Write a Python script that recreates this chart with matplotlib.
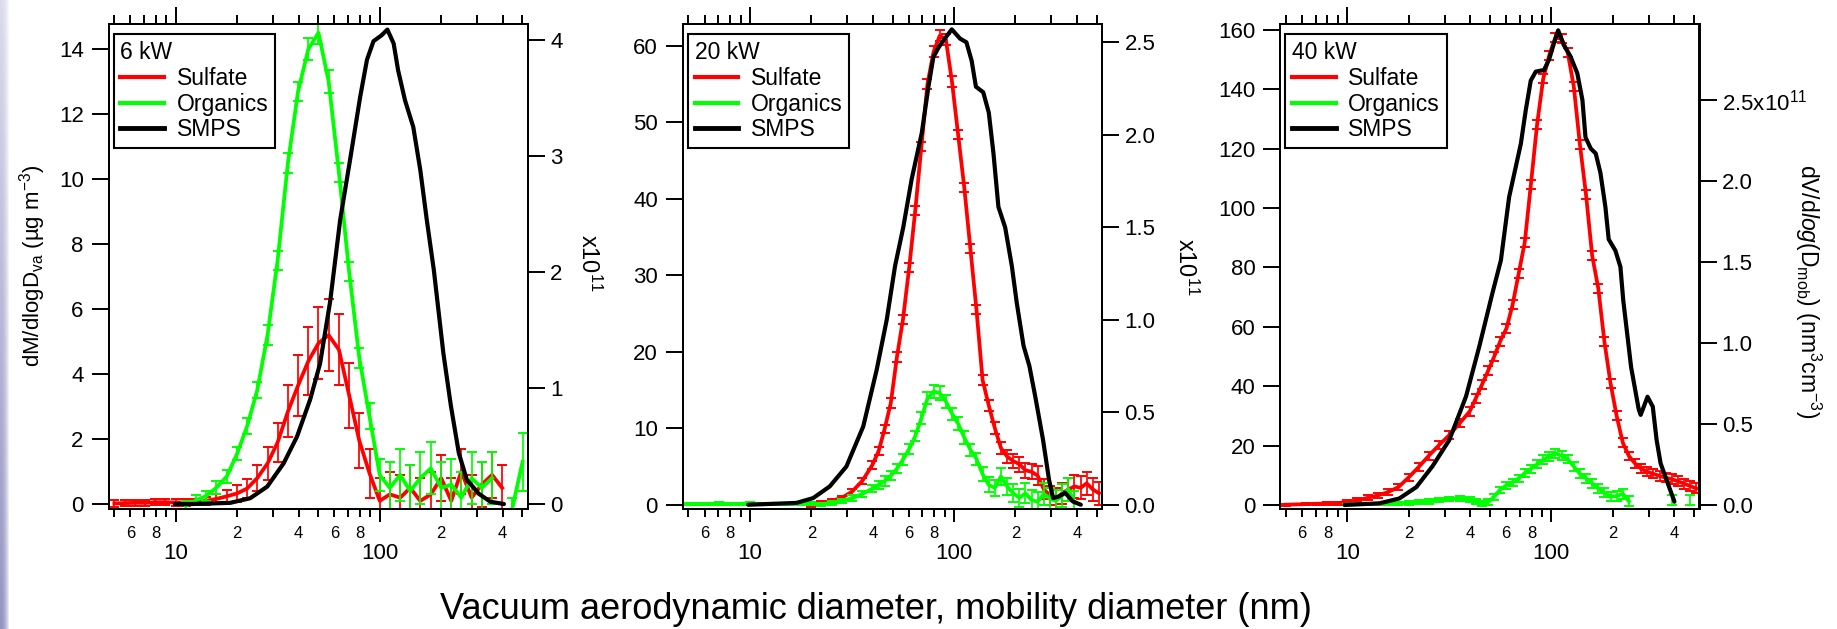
import numpy as np
import matplotlib
matplotlib.use('Agg')
import matplotlib.pyplot as plt
from matplotlib.lines import Line2D
from matplotlib.ticker import FixedLocator, FixedFormatter, FuncFormatter

plt.rcParams['font.family'] = ['Liberation Sans', 'DejaVu Sans']
plt.rcParams['mathtext.fontset'] = 'custom'
plt.rcParams['mathtext.rm'] = 'Liberation Sans'
plt.rcParams['mathtext.it'] = 'Liberation Sans:italic'
plt.rcParams['mathtext.bf'] = 'Liberation Sans:bold'

nan = np.nan

# ---------------- 6 kW ----------------
d_6kw = [5.01, 5.62, 6.31, 7.08, 7.94, 8.91, 10.0, 11.2, 12.6, 14.1, 15.8, 17.8,
         20.0, 22.4, 25.1, 28.2, 31.6, 35.5, 39.8, 44.7, 50.1, 56.2, 63.1, 70.8,
         79.4, 89.1, 100, 112, 126, 141, 158, 178, 200, 224, 251, 282, 316, 355,
         398, 447, 501]
sulfate_6kw = [0.02, 0.03, 0.04, 0.04, 0.06, 0.06, 0.05, 0.05, 0.06, 0.10, 0.16, 0.24,
               0.33, 0.48, 0.80, 1.25, 1.90, 2.85, 3.65, 4.40, 4.95, 5.20, 4.75, 3.35,
               1.95, 0.95, 0.10, 0.30, 0.20, 0.50, 0.10, 0.30, 0.80, 0.10, 1.00, 0.20, 0.60, 0.90,
               0.50, nan, nan]
sulfate_6kw_err = [0.1, 0.1, 0.1, 0.1, 0.1, 0.1, 0.1, 0.1, 0.1, 0.12, 0.15, 0.2,
                   0.25, 0.3, 0.4, 0.5, 0.6, 0.8, 0.95, 1.05, 1.1, 1.1, 1.1, 1.0,
                   0.85, 0.75, 0.7, 0.7, 0.7, 0.7, 0.7, 0.7, 0.7, 0.7, 0.7, 0.7, 0.7, 0.7,
                   0.7, nan, nan]
organics_6kw = [nan, nan, nan, nan, nan, nan, nan, -0.05, 0.12, 0.25, 0.5, 0.85,
                1.55, 2.4, 3.5, 5.2, 7.5, 10.5, 12.7, 14.0, 14.5, 13.0, 10.2, 7.15,
                4.5, 2.7, 0.9, 0.5, 0.9, 0.4, 0.8, 1.1, 0.5, 0.6, 0.2, 0.8, 0.5, 0.8,
                nan, -0.1, 1.3]
organics_6kw_err = [nan, nan, nan, nan, nan, nan, nan, 0.15, 0.15, 0.15, 0.2, 0.2,
                    0.2, 0.25, 0.25, 0.3, 0.3, 0.3, 0.3, 0.35, 0.35, 0.35, 0.3, 0.3,
                    0.3, 0.4, 0.5, 0.8, 0.8, 0.8, 0.8, 0.8, 0.8, 0.8, 0.8, 0.8, 0.8, 0.8,
                    nan, 0.3, 0.9]
smps_d_6kw = [9.9, 12.0, 14.5, 18.5, 23.2, 28.1, 33.8, 39.3, 45.6, 51.0, 57.2, 64.0,
              71.6, 80.2, 86.6, 93.2, 102, 109, 117, 123, 133, 146, 158, 170, 184,
              205, 223, 244, 267, 305, 348, 406]
smps_6kw = [0.0, 0.0, 0.004, 0.01, 0.05, 0.15, 0.35, 0.58, 0.90, 1.21, 1.75, 2.45,
            2.97, 3.51, 3.83, 3.99, 4.04, 4.09, 3.97, 3.74, 3.48, 3.25, 2.88, 2.45, 2.02,
            1.30, 0.85, 0.44, 0.21, 0.09, 0.02, 0.0]

# ---------------- 20 kW and 40 kW share the AMS size bins ----------------
d_ams = [5.01, 5.62, 6.31, 7.08, 7.94, 8.91, 10.0, 11.2, 12.6, 14.1, 15.8, 17.8,
         20.0, 22.4, 25.1, 28.2, 31.6, 35.5, 39.8,
         42.7, 45.7, 49.0, 52.5, 56.2, 60.3, 64.6, 69.2, 74.1, 79.4, 85.1, 91.2,
         97.7, 104.7, 112.2, 120.2, 128.8,
         138.0, 147.9, 158.5, 169.8, 182.0, 195.0, 208.9, 223.9, 239.9, 257.0,
         275.4, 295.1, 316.2, 338.8, 363.1, 389.0, 416.9, 446.7, 478.6, 512.9]

sulfate_20kw = [nan, nan, nan, nan, nan, nan, nan, nan, nan, nan, nan, nan,
                0.05, 0.2, 0.5, 0.9, 1.7, 3.1, 5.2,
                7.0, 9.9, 13.3, 19.3, 24.2, 31.0, 38.5, 46.8, 55.0, 59.2, 61.3, 60.8,
                55.3, 48.4, 41.5, 33.5, 25.5,
                16.3, 13.0, 10.0, 7.4, 6.3, 5.7, 5.3, 4.5, 4.3, 3.8,
                2.0, 1.2, 0.8, 1.5, 2.0, 2.4, 2.2, 2.8, 2.0, 1.5]
sulfate_20kw_err = [nan, nan, nan, nan, nan, nan, nan, nan, nan, nan, nan, nan,
                    0.3, 0.3, 0.3, 0.3, 0.4, 0.4, 0.5,
                    0.5, 0.5, 0.6, 0.6, 0.6, 0.6, 0.6, 0.6, 0.7, 0.7, 0.7, 0.7,
                    0.7, 0.6, 0.6, 0.6, 0.6,
                    0.6, 0.7, 0.8, 0.8, 0.9, 0.9, 1.0, 1.0, 1.0, 1.2,
                    1.3, 1.3, 1.4, 1.4, 1.5, 1.5, 1.5, 1.5, 1.5, 1.5]
organics_20kw = [0.1, 0.1, 0.1, 0.15, 0.1, 0.1, 0.15, 0.1, 0.1, 0.1, 0.1, 0.15,
                 0.1, 0.05, 0.25, 0.5, 0.85, 1.4, 2.1,
                 2.6, 3.1, 3.8, 4.7, 5.9, 7.3, 9.0, 11.3, 13.9, 14.8, 14.6, 13.5,
                 11.9, 10.6, 8.8, 7.2, 6.0,
                 4.0, 2.6, 2.2, 3.7, 2.4, 1.5, 0.9, 1.5, 0.6, 0.4,
                 1.4, 0.8, 0.5, 1.2, 2.0, 0.3, nan, nan, nan, nan]
organics_20kw_err = [0.15, 0.15, 0.15, 0.15, 0.15, 0.15, 0.15, 0.15, 0.15, 0.15, 0.15, 0.15,
                     0.2, 0.2, 0.3, 0.3, 0.4, 0.4, 0.5,
                     0.5, 0.6, 0.6, 0.6, 0.7, 0.7, 0.7, 0.8, 0.8, 0.9, 0.9, 0.8,
                     0.8, 0.8, 0.8, 0.8, 0.8,
                     0.9, 1.0, 1.0, 1.1, 1.1, 1.2, 1.2, 1.3, 1.3, 1.3,
                     1.4, 1.4, 1.4, 1.5, 1.5, 1.5, nan, nan, nan, nan]
smps_d_20kw = [9.8, 16.9, 20.4, 24.6, 29.7, 35.9, 41.8, 46.8, 51.4, 56.4,
               62.0, 69.5, 74.9, 79.2, 83.8, 88.7, 97.5, 107, 115, 122,
               128, 139, 148, 156, 165, 178, 192, 203, 219, 234,
               250, 273, 292, 306, 327, 350, 382, 418]
smps_20kw = [0.0, 0.01, 0.036, 0.099, 0.207, 0.423, 0.73, 1.0, 1.29, 1.50,
             1.76, 2.01, 2.26, 2.42, 2.47, 2.51, 2.57, 2.52, 2.50, 2.40,
             2.26, 2.23, 2.12, 1.90, 1.61, 1.50, 1.29, 1.09, 0.86, 0.75,
             0.585, 0.35, 0.135, 0.036, 0.045, 0.065, 0.018, 0.0]

sulfate_40kw = [0.1, 0.2, 0.3, 0.4, 0.5, 0.65, 1.0, 1.6, 2.4, 3.2, 4.3, 6.0,
                9.3, 12.8, 16.6, 20.2, 23.5, 27.5, 31.5,
                36.0, 40.5, 45.2, 50.0, 55.2, 59.5, 67.5, 78.0, 88.5, 108.0, 128.0, 143.5,
                151.5, 157.5, 157.0, 152.5, 141.0,
                121.5, 104.5, 84.0, 73.0, 55.0, 41.0, 30.0, 21.0, 16.5, 14.0,
                12.2, 11.2, 10.5, 9.8, 9.2, 8.7, 8.0, 7.2, 6.4, 5.6]
sulfate_40kw_err = [0.3, 0.3, 0.3, 0.4, 0.4, 0.5, 0.6, 0.7, 0.8, 0.9, 1.0, 1.1,
                    1.2, 1.3, 1.3, 1.4, 1.4, 1.4, 1.5,
                    1.5, 1.5, 1.5, 1.5, 1.5, 1.5, 1.5, 1.5, 1.5, 1.5, 1.5, 1.5,
                    1.5, 1.5, 1.5, 1.5, 1.5,
                    1.5, 1.5, 1.5, 1.5, 1.5, 1.5, 1.5, 1.5, 1.5, 1.5,
                    1.5, 1.5, 1.5, 1.6, 1.6, 1.6, 1.7, 1.7, 1.7, 1.7]
organics_40kw = [nan, nan, nan, nan, nan, nan, 0.2, 0.3, 0.3, 0.4, 0.5, 0.6,
                 0.7, 1.0, 1.2, 1.6, 2.0, 2.2, 1.8,
                 1.2, 0.5, 1.0, 2.8, 5.2, 6.6, 7.7, 9.0, 10.7, 12.2, 13.7, 15.3,
                 16.4, 17.4, 16.6, 15.5, 13.0,
                 10.5, 9.0, 7.3, 5.6, 4.1, 2.8, 3.0, 3.8, 1.2, nan,
                 nan, nan, nan, nan, nan, 1.7, nan, nan, 1.7, nan]
organics_40kw_err = [nan, nan, nan, nan, nan, nan, 0.3, 0.3, 0.4, 0.4, 0.5, 0.5,
                     0.6, 0.6, 0.7, 0.7, 0.8, 0.8, 0.8,
                     0.8, 0.8, 0.9, 1.0, 1.0, 1.1, 1.2, 1.2, 1.3, 1.3, 1.4, 1.4,
                     1.5, 1.5, 1.5, 1.5, 1.5,
                     1.5, 1.5, 1.5, 1.5, 1.5, 1.6, 1.6, 1.7, 1.7, nan,
                     nan, nan, nan, nan, nan, 1.8, nan, nan, 1.8, nan]
smps_d_40kw = [9.7, 14.4, 18.0, 21.8, 26.2, 31.6, 38.2, 44.4, 51.5, 56.6,
               62.1, 70.9, 75.0, 79.3, 83.9, 92.1, 97.5, 103, 108, 115,
               124, 134, 142, 147, 156, 165, 174, 184, 191, 206,
               218, 225, 246, 268, 274, 296, 314, 328, 343, 367, 401]
smps_40kw = [0.0, 0.01, 0.04, 0.11, 0.24, 0.40, 0.67, 0.98, 1.31, 1.51,
             1.90, 2.23, 2.44, 2.62, 2.675, 2.685, 2.75, 2.85, 2.93, 2.84,
             2.77, 2.665, 2.50, 2.27, 2.20, 2.17, 2.05, 1.84, 1.64, 1.57,
             1.47, 1.265, 0.85, 0.59, 0.556, 0.668, 0.607, 0.40, 0.257, 0.154, 0.02]

# axis settings
titles = ['6 kW', '20 kW', '40 kW']
left_ylims = [(-0.15, 14.77), (-0.56, 62.83), (-1.35, 162.0)]
left_yticks = [[0, 2, 4, 6, 8, 10, 12, 14], [0, 10, 20, 30, 40, 50, 60],
               [0, 20, 40, 60, 80, 100, 120, 140, 160]]
right_ylims = [(-0.043, 4.138), (-0.023, 2.599), (-0.025, 2.969)]
right_yticks = [[0, 1, 2, 3, 4], [0, 0.5, 1.0, 1.5, 2.0, 2.5],
                [0, 0.5, 1.0, 1.5, 2.0, 2.5]]
right_ylabels = [['0', '1', '2', '3', '4'],
                 ['0.0', '0.5', '1.0', '1.5', '2.0', '2.5'],
                 ['0.0', '0.5', '1.0', '1.5', '2.0', r'2.5x10$^{11}$']]
minor_x = [5, 6, 7, 8, 9, 20, 30, 40, 50, 60, 70, 80, 90, 200, 300, 400, 500]

RED = '#ff0000'
GREEN = '#00ff00'


def minor_label(v, pos):
    lead = int(round(v / 10 ** np.floor(np.log10(v))))
    return str(lead) if lead in (2, 4, 6, 8) else ''


def draw_panel(ax, d, sul, sul_err, org, org_err, smps_d, smps, idx):
    ax.errorbar(d, sul, yerr=sul_err, color=RED, lw=2.7, elinewidth=1.25,
                capsize=3.8, capthick=1.4, zorder=2)
    ax.errorbar(d, org, yerr=org_err, color=GREEN, lw=2.7, elinewidth=1.25,
                capsize=3.8, capthick=1.4, zorder=3)
    ax2 = ax.twinx()
    ax2.plot(smps_d, smps, color='black', lw=3.0, solid_capstyle='round')

    ax.set_xscale('log')
    ax.set_xlim(4.7, 532)
    ax.xaxis.set_major_locator(FixedLocator([10, 100]))
    ax.xaxis.set_major_formatter(FixedFormatter(['10', '100']))
    ax.xaxis.set_minor_locator(FixedLocator(minor_x))
    ax.xaxis.set_minor_formatter(FuncFormatter(minor_label))
    ax.tick_params(axis='x', which='major', direction='out', length=9.4, width=1.4,
                   labelsize=16, pad=15, top=False)
    ax.tick_params(axis='x', which='minor', direction='out', length=6, width=1.4,
                   labelsize=12, pad=6, top=False)

    ax2.xaxis.set_visible(True)
    ax2.tick_params(axis='x', which='major', direction='out', length=12, width=1.4,
                    top=True, bottom=False, labeltop=False, labelbottom=False)
    ax2.tick_params(axis='x', which='minor', direction='out', length=6.5, width=1.4,
                    top=True, bottom=False, labeltop=False, labelbottom=False)

    ax.set_ylim(*left_ylims[idx])
    ax.set_yticks(left_yticks[idx])
    ax.tick_params(axis='y', direction='out', length=12, width=1.4, labelsize=16, pad=6)
    ax2.set_ylim(*right_ylims[idx])
    ax2.set_yticks(right_yticks[idx])
    ax2.set_yticklabels(right_ylabels[idx])
    ax2.tick_params(axis='y', direction='out', length=12, width=1.4, labelsize=16, pad=4)

    for a in (ax, ax2):
        for s in a.spines.values():
            s.set_linewidth(1.4)

    handles = [Line2D([], [], color=RED, lw=3), Line2D([], [], color=GREEN, lw=3),
               Line2D([], [], color='black', lw=3.5)]
    leg = ax2.legend(handles, ['Sulfate', 'Organics', 'SMPS'], title=titles[idx],
                     loc='upper left', bbox_to_anchor=(0.0115, 0.979),
                     bbox_transform=ax.transAxes, frameon=True, fancybox=False,
                     edgecolor='black', fontsize=16.5, title_fontsize=16.5,
                     alignment='left', borderpad=0.3, labelspacing=0.12,
                     handlelength=1.9, handletextpad=0.55, borderaxespad=0)
    leg.get_frame().set_linewidth(1.5)
    leg.get_frame().set_alpha(None)
    leg.get_frame().set_facecolor('white')
    return ax2


fig = plt.figure(figsize=(18.37, 6.29), dpi=100)

# faint slide edge on the far left
gax = fig.add_axes([0, 0, 10 / 1837, 1])
gax.axis('off')
vert = np.linspace(0, 1, 200)[:, None, None]
horiz = np.linspace(0, 1, 10)[None, :, None]
top_c = np.array([0.86, 0.86, 0.93])
bot_c = np.array([0.58, 0.58, 0.76])
base = top_c + (bot_c - top_c) * vert
strip = base + (1 - base) * horiz ** 2
gax.imshow(np.clip(strip, 0, 1), aspect='auto', extent=(0, 1, 0, 1))

lefts = [108.7 / 1837, 683 / 1837, 1280.3 / 1837]
width = 419.2 / 1837
bottom = 120 / 629
height = 485 / 629

panels = [
    (d_6kw, sulfate_6kw, sulfate_6kw_err, organics_6kw, organics_6kw_err, smps_d_6kw, smps_6kw),
    (d_ams, sulfate_20kw, sulfate_20kw_err, organics_20kw, organics_20kw_err, smps_d_20kw, smps_20kw),
    (d_ams, sulfate_40kw, sulfate_40kw_err, organics_40kw, organics_40kw_err, smps_d_40kw, smps_40kw),
]

for i, p in enumerate(panels):
    ax = fig.add_axes([lefts[i], bottom, width, height])
    draw_panel(ax, *p, i)

# axis labels as figure text
fig.text(33 / 1837, 1 - 266 / 629, r'dM/dlogD$_{\mathrm{va}}$ (µg m$^{-3}$)',
         rotation=90, ha='center', va='center', fontsize=16)
fig.text(589 / 1837, 1 - 263 / 629, r'x10$^{11}$', rotation=-90,
         ha='center', va='center', fontsize=17)
fig.text(1186 / 1837, 1 - 267 / 629, r'x10$^{11}$', rotation=-90,
         ha='center', va='center', fontsize=17)
fig.text(1808 / 1837, 1 - 291 / 629,
         r'dV/d$\mathit{log}$(D$_{\mathrm{mob}}$) (nm$^{3}$cm$^{-3}$)',
         rotation=-90, ha='center', va='center', fontsize=16.5)
fig.text(875.5 / 1837, 10 / 629, 'Vacuum aerodynamic diameter, mobility diameter (nm)',
         ha='center', va='baseline', fontsize=26)

fig.savefig('out.png', dpi=100)
